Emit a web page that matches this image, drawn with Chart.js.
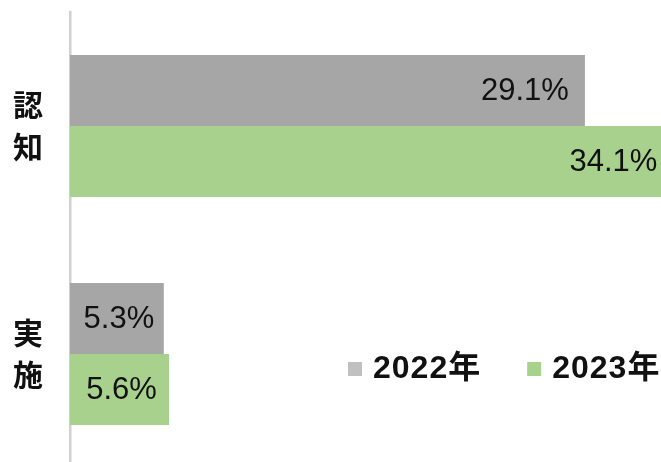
<!DOCTYPE html>
<html>
<head>
<meta charset="utf-8">
<script src="https://cdn.jsdelivr.net/npm/chart.js@4"></script>
<style>
  html, body { margin: 0; padding: 0; background: #fff; overflow: hidden; }
  #wrap { width: 661px; height: 468px; position: relative; }
</style>
</head>
<body>
<div id="wrap"><canvas id="chart"></canvas></div>
<script>
// categories (stacked vertical text) and series
const categories = [['認', '知'], ['実', '施']];
const seriesNames = ['2022年', '2023年'];
const values2022 = [29.1, 5.3];
const values2023 = [34.1, 5.6];
const colors = ['#a6a6a6', '#a9d18e'];
const legendColors = ['#c0c0c0', '#a9d18e'];

// draw "xx.x%" inside the end of each bar (centred when the bar is short)
const valueLabels = {
    id: 'valueLabels',
    afterDatasetsDraw(chart) {
        const ctx = chart.ctx;
        ctx.save();
        ctx.font = '31px "Liberation Sans", Arial, sans-serif';
        ctx.fillStyle = '#111';
        ctx.textBaseline = 'middle';
        chart.data.datasets.forEach((ds, i) => {
            chart.getDatasetMeta(i).data.forEach((bar, j) => {
                const txt = ds.data[j].toFixed(1) + '%';
                const w = ctx.measureText(txt).width;
                if (bar.x - bar.base < w + 40) {
                    ctx.textAlign = 'center';
                    ctx.fillText(txt, (bar.x + bar.base) / 2 + 2, bar.y + 1);
                } else {
                    ctx.textAlign = 'right';
                    ctx.fillText(txt, bar.x - 16, bar.y + 1);
                }
            });
        });
        ctx.restore();
    }
};

// legend sitting in the lower right of the plot
const innerLegend = {
    id: 'innerLegend',
    afterDraw(chart) {
        const ctx = chart.ctx;
        const area = chart.chartArea;
        let x = area.left + 278;
        const y = 369;
        ctx.save();
        ctx.font = 'bold 32px "Liberation Sans", "Noto Sans CJK JP", sans-serif';
        ctx.letterSpacing = '1px';
        ctx.textBaseline = 'middle';
        ctx.textAlign = 'left';
        chart.data.datasets.forEach((ds, i) => {
            ctx.fillStyle = legendColors[i];
            ctx.fillRect(x, y - 7, 14, 14);
            x += 25;
            ctx.fillStyle = '#111';
            ctx.fillText(ds.label, x, y);
            x += ctx.measureText(ds.label).width + 46;
        });
        ctx.restore();
    }
};

const ctx = document.getElementById('chart').getContext('2d');
new Chart(ctx, {
    type: 'bar',
    data: {
        labels: categories,
        datasets: [
            { label: seriesNames[0], data: values2022, backgroundColor: colors[0] },
            { label: seriesNames[1], data: values2023, backgroundColor: colors[1] }
        ]
    },
    options: {
        indexAxis: 'y',
        responsive: true,
        maintainAspectRatio: false,
        animation: false,
        layout: { padding: { top: 12, right: 0, bottom: 0, left: 0 } },
        datasets: { bar: { categoryPercentage: 0.623, barPercentage: 1 } },
        plugins: { legend: { display: false }, tooltip: { enabled: false } },
        scales: {
            x: { display: false, min: 0, max: 33.4 },
            y: {
                grid: { display: false, drawTicks: false },
                border: { display: true, color: '#d0d0d0', width: 2.5 },
                afterFit(scale) {
                    scale.width = 70;
                    scale.paddingTop = 0;
                    scale.paddingBottom = 0;
                },
                ticks: {
                    padding: 27,
                    color: '#111',
                    font: { size: 30, weight: 'bold', family: '"Noto Sans CJK JP", sans-serif', lineHeight: 1.4 }
                }
            }
        }
    },
    plugins: [valueLabels, innerLegend]
});
</script>
</body>
</html>
